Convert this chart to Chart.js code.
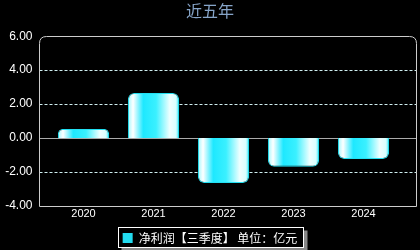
<!DOCTYPE html>
<html><head><meta charset="utf-8">
<script src="https://cdn.jsdelivr.net/npm/chart.js@4/dist/chart.umd.min.js"></script>
<style>html,body{margin:0;padding:0;background:#000;}#wrap{width:420px;height:250px;}</style>
</head><body><div id="wrap"><canvas id="c" width="420" height="250"></canvas></div>
<script>
const categories = ['2020','2021','2022','2023','2024'];
const netProfit = [0.53, 2.65, -2.65, -1.70, -1.24];
const yTicks = [-4, -2, 0, 2, 4, 6];
const seriesName = '净利润【三季度】 单位：亿元';
const titleText = '近五年';

const FRAME_LEFT_EXT = 10;
const FRAME_RIGHT_EXT = 17;

const framePlugin = {
  id: 'frame',
  beforeDraw(chart) {
    const ctx = chart.ctx;
    ctx.save();
    ctx.fillStyle = '#000';
    ctx.fillRect(0, 0, chart.width, chart.height);
    const lg = chart.legend;
    if (lg && lg.legendHitBoxes && lg.legendHitBoxes.length) {
      const h = lg.legendHitBoxes[0];
      const x0 = Math.round(h.left) - 4.5, y0 = Math.round(h.top) - 4.5;
      const w = Math.round(h.width) + 10, hh = Math.round(h.height) + 8;
      ctx.fillStyle = '#888';
      ctx.fillRect(x0 + 3, y0 + 3, w + 1, hh + 1);
      ctx.fillStyle = '#000';
      ctx.fillRect(x0, y0, w, hh);
      ctx.strokeStyle = '#fff';
      ctx.lineWidth = 1;
      ctx.strokeRect(x0, y0, w, hh);
    }
    ctx.restore();
  },
  beforeDatasetsDraw(chart) {
    const ctx = chart.ctx, a = chart.chartArea, y = chart.scales.y;
    const l = Math.round(a.left - FRAME_LEFT_EXT) + 0.5, r = Math.round(a.right + FRAME_RIGHT_EXT) + 0.5;
    const t = Math.round(a.top) + 0.5, b = Math.round(a.bottom) + 0.5, rad = 7;
    ctx.save();
    yTicks.forEach(v => {
      if (v === y.min || v === y.max) return;
      const py = Math.round(y.getPixelForValue(v)) + 0.5;
      ctx.beginPath();
      if (v === 0) { ctx.setLineDash([]); ctx.strokeStyle = '#aaaaaa'; }
      else { ctx.setLineDash([3, 2]); ctx.strokeStyle = '#cfeef0'; }
      ctx.lineWidth = 1;
      ctx.moveTo(l, py); ctx.lineTo(r, py); ctx.stroke();
    });
    ctx.setLineDash([]);
    ctx.strokeStyle = '#cccccc';
    ctx.beginPath();
    ctx.moveTo(l, b); ctx.lineTo(l, t + rad); ctx.quadraticCurveTo(l, t, l + rad, t);
    ctx.lineTo(r - rad, t); ctx.quadraticCurveTo(r, t, r, t + rad); ctx.lineTo(r, b); ctx.lineTo(l, b);
    ctx.stroke();
    const meta = chart.getDatasetMeta(0);
    meta.data.forEach(el => {
      const x0 = el.x - el.width / 2, x1 = el.x + el.width / 2;
      const g = ctx.createLinearGradient(x0, 0, x1, 0);
      g.addColorStop(0, '#9ff8ff');
      g.addColorStop(0.1, '#ffffff');
      g.addColorStop(0.3, '#1ee8ff');
      g.addColorStop(0.55, '#3af0ff');
      g.addColorStop(0.82, '#f0ffff');
      g.addColorStop(0.94, '#d8ffff');
      g.addColorStop(1, '#30e8fa');
      el.options = Object.assign({}, el.options, { backgroundColor: g });
    });
    ctx.restore();
  }
};

new Chart(document.getElementById('c'), {
  type: 'bar',
  data: {
    labels: categories,
    datasets: [{
      label: seriesName,
      data: netProfit,
      backgroundColor: '#22e6f8',
      borderColor: '#22e0f2',
      borderWidth: 1,
      borderSkipped: 'start',
      borderRadius: 6,
      barPercentage: 0.73,
      categoryPercentage: 1.0,
      yAxisID: 'y'
    }]
  },
  options: {
    responsive: false,
    animation: false,
    devicePixelRatio: 1,
    layout: { padding: { left: 0, right: 0, top: 0, bottom: -4 } },
    plugins: {
      title: {
        display: true, text: titleText, color: '#86a4c8',
        font: { family: 'Noto Sans CJK SC', size: 16, weight: 'normal' },
        padding: { top: 1, bottom: 16 }
      },
      legend: {
        position: 'bottom',
        labels: {
          color: '#ffffff', boxWidth: 10, boxHeight: 10, padding: 6,
          font: { family: 'Noto Sans CJK SC', size: 12 },
          generateLabels: (chart) => [{ text: seriesName, fillStyle: '#22dcf0', strokeStyle: '#22dcf0', lineWidth: 0, fontColor: '#fff', datasetIndex: 0 }]
        }
      },
      tooltip: { enabled: false }
    },
    scales: {
      x: {
        grid: { display: false, drawTicks: false },
        border: { display: false },
        afterFit: (s) => { s.height += 3; },
        ticks: { color: '#ffffff', font: { family: 'Liberation Sans', size: 11 }, padding: 2 }
      },
      y: {
        min: -4, max: 6,
        afterBuildTicks: (s) => { s.ticks = yTicks.map(v => ({ value: v })); },
        afterFit: (s) => { s.width = 48.5; },
        grid: { display: false, drawTicks: false },
        border: { display: false },
        ticks: { color: '#ffffff', font: { family: 'Liberation Sans', size: 12 }, padding: 16, callback: v => Number(v).toFixed(2) }
      },
      yR: {
        position: 'right',
        min: -4, max: 6,
        afterFit: (s) => { s.width = 21.5; },
        grid: { display: false, drawTicks: false },
        border: { display: false },
        ticks: { display: false }
      }
    }
  },
  plugins: [framePlugin]
});
</script></body></html>
